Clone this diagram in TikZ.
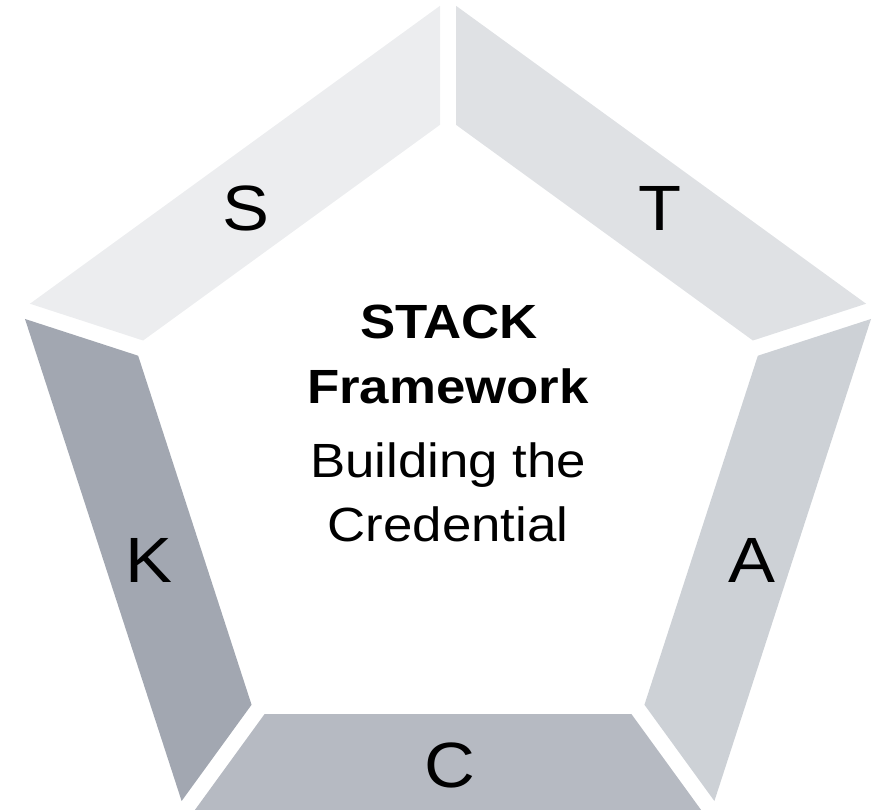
\documentclass[tikz,border=0pt]{standalone}
\usepackage{fontspec}
\setmainfont{Liberation Sans}[FakeStretch=1.1]
\usetikzlibrary{calc}
\definecolor{cS}{HTML}{ECEDEF}
\definecolor{cT}{HTML}{DFE1E4}
\definecolor{cA}{HTML}{CDD1D6}
\definecolor{cC}{HTML}{B6BAC2}
\definecolor{cK}{HTML}{A2A7B1}
\tikzset{
  seg/.style={draw=none},
  lbl/.style={anchor=base, inner sep=0pt, font=\fontsize{64}{64}\selectfont},
  ctitle/.style={anchor=base, inner sep=0pt, font=\fontsize{48}{48}\selectfont\bfseries},
  csub/.style={anchor=base, inner sep=0pt, font=\fontsize{48}{48}\selectfont}
}
\begin{document}
\begin{tikzpicture}[x=1pt,y=1pt]
\useasboundingbox (0,0) rectangle (878,810);
\clip (0,0) rectangle (878,810);
\coordinate (O) at (448,362);
\foreach \i/\a in {1/90,2/162,3/234,4/306,5/18}{
  \coordinate (P\i) at ($(O)+(\a:448)$);
  \coordinate (Q\i) at ($(O)+(\a:329)$);
}
% segment between vertex a and b: corners shifted 9.89pt along edges
\def\seg#1#2#3{%
  \fill[seg,#3] ($(P#1)!9.89pt!(P#2)$) -- ($(P#2)!9.89pt!(P#1)$)
     -- ($(Q#2)!9.89pt!(Q#1)$) -- ($(Q#1)!9.89pt!(Q#2)$) -- cycle;}
\seg{1}{2}{cS}
\seg{2}{3}{cK}
\seg{3}{4}{cC}
\seg{4}{5}{cA}
\seg{5}{1}{cT}
\node[lbl] (s) at (246,579) {S};
\node[lbl] (t) at (660,579) {T};
\node[lbl] (a) at (752,227) {A};
\node[lbl] (k) at (148.7,227) {K};
\node[lbl] (c) at (450,22) {C};
\node[ctitle] (l1) at (449,471) {STACK};
\node[ctitle] (l2) at (448,406) {Framework};
\node[csub] (l3) at (448,332) {Building the};
\node[csub] (l4) at (448,268) {Credential};
\end{tikzpicture}
\end{document}
